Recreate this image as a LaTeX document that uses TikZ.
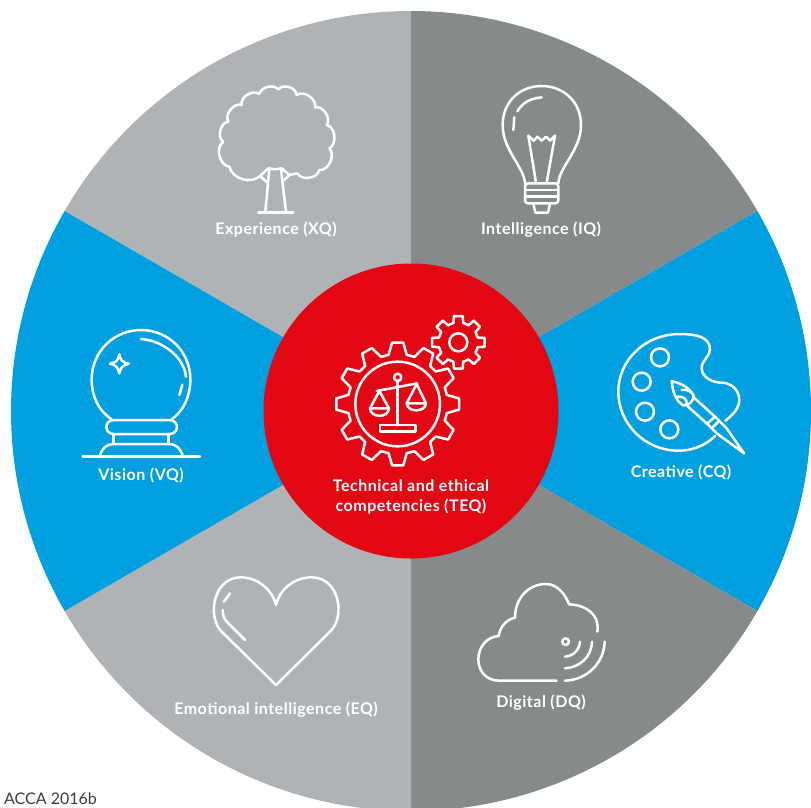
\documentclass[tikz,border=0pt]{standalone}
\usepackage{fontspec}
\setmainfont{Lato}
\newfontfamily\labelfont[LetterSpace=3.2]{Lato}
\definecolor{lightgrey}{HTML}{B0B3B5}
\definecolor{darkgrey}{HTML}{868A8B}
\definecolor{skyblue}{HTML}{009FE0}
\definecolor{corered}{HTML}{E30613}
\definecolor{inkgrey}{HTML}{3C3C3B}
\tikzset{
  icon/.style={draw=white,line width=2.5pt,line cap=round,line join=round},
  label/.style={text=white,font=\labelfont\fontsize{16pt}{20pt}\selectfont\bfseries,inner sep=0pt,align=center},
}
\newcommand{\gearpath}[6]{% centre, teeth step, root r, tip r, root half, tip half
  \draw[icon] (#1) ++(-#5:#3) \foreach \a in {0,#2,...,359}{ -- ($(#1)+(\a-#5:#3)$) -- ($(#1)+(\a-#6:#4)$) -- ($(#1)+(\a+#6:#4)$) -- ($(#1)+(\a+#5:#3)$) } -- cycle;
}
\usetikzlibrary{calc}
\begin{document}
\begin{tikzpicture}[x=1pt,y=-1pt]
\useasboundingbox (0,0) rectangle (811,807);
\coordinate (c) at (411,411);
\foreach \s/\e/\col in {-150/-90/lightgrey,-90/-30/darkgrey,-30/30/skyblue,30/90/darkgrey,90/150/lightgrey,150/210/skyblue}{
  \fill[\col] (c) -- ($(c)+(\s:400)$) arc[start angle=\s,end angle=\e,radius=400] -- cycle;
}
\node[circle,fill=corered,minimum size=295pt,inner sep=0pt] (core) at (c) {};

% tree
\begin{scope}[shift={(200,70)},scale=0.33333]
\draw[icon] (205,295) -- (180,318) to[bend left=60] (88,290) to[bend left=70] (70,215) to[bend left=70] (85,155) to[bend left=70] (125,105) to[bend left=70] (178,72) to[bend left=60] (235,58) to[bend left=70] (290,75) to[bend left=70] (345,112) to[bend left=70] (380,165) to[bend left=70] (388,235) to[bend left=70] (358,300) to[bend left=70] (292,310) -- (268,315) -- (245,295) -- (225,298) -- (205,295);
\draw[icon] (208,298) -- (196,425);
\draw[icon] (243,298) -- (258,425);
\draw[icon] (175,427) -- (280,427);
\draw[icon] (180,318) -- (202,338);
\draw[icon] (270,314) -- (250,332);
% bulb
\draw[icon] (975,340) .. controls (972,290) and (908,240) .. (908,165) .. controls (908,95) and (960,48) .. (1025,48) .. controls (1090,48) and (1143,95) .. (1143,165) .. controls (1143,240) and (1078,290) .. (1075,340);
\draw[icon,rounded corners=3pt] (975,340) -- (1075,340) -- (1075,400) -- (975,400) -- cycle;
\draw[icon] (975,360) -- (1075,360) (975,380) -- (1075,380);
\draw[icon] (1000,402) -- (1006,428) -- (1044,428) -- (1050,402);
\draw[icon] (1008,338) -- (985,197) -- (1001,212) -- (1012,200) -- (1025,212) -- (1038,200) -- (1050,212) -- (1065,197) -- (1040,338);
\draw[icon] (952,124) .. controls (965,100) and (990,85) .. (1025,82);
\draw[icon] (943,142) -- (940,180);
\end{scope}

% gears and scales
\begin{scope}[shift={(320,300)},scale=0.33333]
\coordinate (biggear) at (233,312);
\coordinate (smallgear) at (415,127);
\gearpath{biggear}{30}{150}{185}{10.5}{5.2}
\gearpath{smallgear}{45}{60}{80}{14}{9.5}
\draw[icon] (biggear) circle[radius=127];
\draw[icon] (smallgear) circle[radius=27];
\draw[icon] (233,232) circle[radius=11];
\draw[icon] (233,243) -- (233,376);
\draw[icon] (170,273) -- (292,250);
\draw[icon] (180,375) rectangle (287,395);
\draw[icon] (178,273) -- (150,325) -- (207,325) -- cycle;
\draw[icon] (150,325) .. controls (152,355) and (205,355) .. (207,325);
\draw[icon] (290,252) -- (260,310) -- (318,310) -- cycle;
\draw[icon] (260,310) .. controls (262,338) and (316,338) .. (318,310);
\end{scope}

% crystal ball
\begin{scope}[shift={(60,320)},scale=0.33333]
\draw[icon] (155,298) .. controls (115,272) and (95,228) .. (95,178) .. controls (95,95) and (162,30) .. (243,30) .. controls (325,30) and (391,95) .. (391,178) .. controls (391,228) and (371,272) .. (335,298);
\draw[icon] (155,300) -- (330,300) .. controls (358,302) and (358,340) .. (330,342) -- (160,342) .. controls (132,340) and (132,302) .. (160,300) -- cycle;
\draw[icon] (160,342) -- (160,372) (326,342) -- (326,372);
\draw[icon] (120,408) .. controls (125,385) and (140,372) .. (160,372) -- (326,372) .. controls (348,372) and (362,385) .. (368,408);
\draw[icon] (68,410) -- (420,410);
\draw[icon] (243,57) .. controls (310,62) and (372,112) .. (378,170);
\draw[icon] (367,194) -- (358,225);
\draw[icon] (178,103) .. controls (182,122) and (188,128) .. (207,131) .. controls (188,135) and (182,142) .. (178,160) .. controls (174,142) and (168,135) .. (150,131) .. controls (168,128) and (174,122) .. (178,103) -- cycle;
\end{scope}

% palette
\begin{scope}[shift={(600,320)},scale=0.33333]
\draw[icon] (345,348) .. controls (315,378) and (275,392) .. (235,392) .. controls (135,392) and (55,312) .. (55,215) .. controls (55,120) and (135,42) .. (240,42) .. controls (285,42) and (330,50) .. (330,88) .. controls (330,110) and (305,120) .. (305,145) .. controls (305,170) and (335,188) .. (365,188) .. controls (395,188) and (418,212) .. (418,240) .. controls (418,262) and (400,285) .. (376,302);
\draw[icon] (180,112) circle[radius=27];
\draw[icon] (125,185) circle[radius=27];
\draw[icon] (135,275) circle[radius=27];
\draw[icon] (208,328) circle[radius=27];
\draw[icon] (215,183) .. controls (250,192) and (270,205) .. (281,228) .. controls (280,245) and (265,258) .. (250,256) .. controls (228,245) and (218,215) .. (215,183) -- cycle;
\draw[icon] (245,210) .. controls (262,205) and (278,218) .. (281,228);
\draw[icon] (232,230) .. controls (250,228) and (262,238) .. (260,252);
\draw[icon] (281,232) -- (345,290) -- (380,325) -- (432,400) -- (350,340) -- (320,310) -- (262,258);
\draw[icon] (320,312) -- (345,290) (335,325) -- (358,302);
\end{scope}

% cloud
\begin{scope}[shift={(460,570)},scale=0.33333]
\draw[icon] (290,332) -- (118,332) .. controls (80,332) and (55,305) .. (55,268) .. controls (55,232) and (80,200) .. (116,198) .. controls (120,170) and (140,148) .. (165,143) .. controls (165,85) and (205,42) .. (258,42) .. controls (290,42) and (315,70) .. (327,103) .. controls (380,105) and (420,135) .. (412,185);
\draw[icon] (317,215) circle[radius=10];
\draw[icon] (315,260) .. controls (340,258) and (358,240) .. (360,215);
\draw[icon] (315,295) .. controls (360,292) and (395,260) .. (396,215);
\draw[icon] (315,332) .. controls (380,330) and (432,280) .. (434,215);
\end{scope}

% heart
\begin{scope}[shift={(200,560)},scale=0.33333]
\draw[icon] (228,375) -- (65,215) .. controls (20,170) and (40,52) .. (122,52) .. controls (170,52) and (215,85) .. (228,135) .. controls (240,85) and (285,52) .. (335,52) .. controls (418,52) and (438,170) .. (390,215) -- cycle;
\draw[icon] (90,100) -- (72,125);
\draw[icon] (68,150) .. controls (68,170) and (75,180) .. (85,190) -- (135,240);
\end{scope}

\node[label] (xq) at (276,230) {Experience (XQ)};
\node[label] (iq) at (541,230) {Intelligence (IQ)};
\node[label] (vq) at (141,475) {Vision (VQ)};
\node[label] (cq) at (681,472) {Creative (CQ)};
\node[label] (eq) at (276,710) {Emotional intelligence (EQ)};
\node[label] (dq) at (541,703) {Digital (DQ)};
\node[label] (teq) at (411,497) {Technical and ethical\\competencies (TEQ)};
\node[anchor=west,inner sep=0pt,text=inkgrey,font=\fontsize{16pt}{18pt}\selectfont] (src) at (4,799) {ACCA 2016b};
\end{tikzpicture}
\end{document}
